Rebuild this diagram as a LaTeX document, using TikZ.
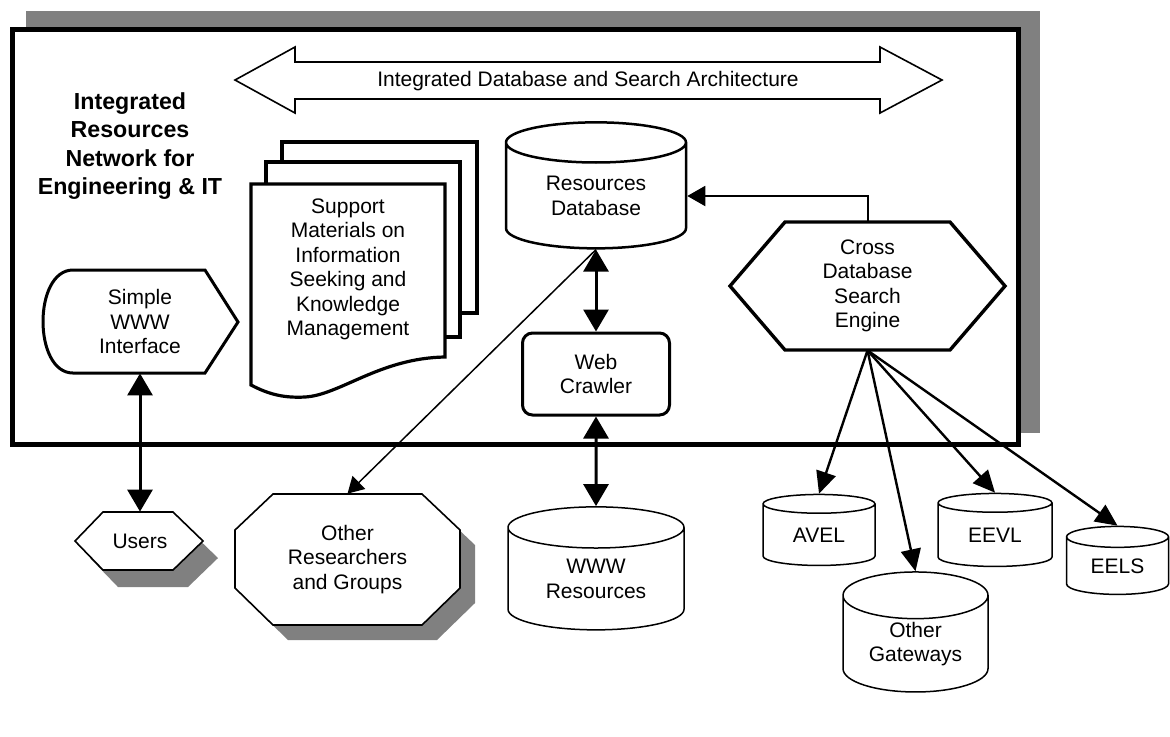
\documentclass[tikz,border=0pt]{standalone}
\usepackage{fontspec}
\setmainfont{Liberation Sans}
\usetikzlibrary{arrows.meta,shapes.geometric}
\begin{document}
\begin{tikzpicture}[x=0.5pt,y=-0.5pt,
    every node/.style={font=\fontsize{10.5}{12.25}\selectfont, align=center, inner sep=0pt},
    db/.style={cylinder, shape border rotate=90, draw, fill=white, line width=0.75pt},
    bigarrow/.style={line width=1.5pt, {Triangle[length=11pt,width=12.5pt]}-{Triangle[length=11pt,width=12.5pt]}},
    gwarrow/.style={line width=1.2pt, -{Triangle[length=11pt,width=10pt]}},
    shade/.style={fill=black!50}]
	% bounding box
	\useasboundingbox (0,0) rectangle (1170,736);
	% network box with its shadow
	\fill[shade] (26,11) rectangle (1040,433);
	\draw[line width=2.5pt, fill=white] (12.5,29.5) rectangle (1018,444);
	% architecture banner
	\draw[line width=0.8pt, fill=white] (235,80) -- (295,47) -- (295,62) -- (880,62) -- (880,47) -- (942,80)
		-- (880,113) -- (880,99) -- (295,99) -- (295,113) -- cycle;
	\node (arch) at (588,81) {Integrated Database and Search Architecture};
	% title
	\node[font=\fontsize{11.6}{14.3}\selectfont\bfseries] (title) at (130,146) {Integrated\\Resources\\Network for\\Engineering \& IT};
	% support materials stack
	\draw[line width=1.6pt, fill=white] (282,142) rectangle (477,313);
	\draw[line width=1.6pt, fill=white] (266,162) rectangle (460,337);
	\draw[line width=1.6pt, fill=white] (251,184) -- (445,184) -- (445,357)
		.. controls (380,358) and (340,395) .. (305,397) .. controls (285,398) and (270,395) .. (251,385) -- cycle;
	\node (supp) at (348,269.5) {Support\\Materials on\\Information\\Seeking and\\Knowledge\\Management};
	% interface
	\draw[line width=1.5pt, fill=white] (73,270) -- (205,270) -- (238,322) -- (205,373) -- (73,373)
		.. controls (33,373) and (33,270) .. (73,270) -- cycle;
	\node[minimum width=97.5pt, minimum height=51.5pt] (iface) at (140,321.5) {Simple\\WWW\\Interface};
	% databases and crawler
	\node[db, line width=1.25pt, minimum width=90pt, minimum height=63pt, aspect=0.4] (resdb) at (596,196) {Resources\\Database};
	\node[draw, rounded corners=5pt, line width=1.5pt, minimum width=73.5pt, minimum height=41pt] (crawl) at (596,374) {Web\\Crawler};
	% search engine
	\draw[line width=1.7pt, fill=white] (730,286) -- (785,222) -- (950,222) -- (1005,286) -- (950,350) -- (785,350) -- cycle;
	\node[minimum width=137.5pt, minimum height=64pt] (cross) at (867.5,286) {Cross\\Database\\Search\\Engine};
	% users
	\fill[shade] (90,558) -- (118,529) -- (188,529) -- (218,558) -- (188,587) -- (118,587) -- cycle;
	\draw[line width=0.8pt, fill=white] (75,541) -- (103,512) -- (173,512) -- (203,541) -- (173,570) -- (103,570) -- cycle;
	\node[minimum width=64pt, minimum height=29pt] (users) at (140,541) {Users};
	% other researchers
	\fill[shade] (250,545) -- (288,509) -- (437,509) -- (475,545) -- (475,603) -- (437,640) -- (288,640) -- (250,603) -- cycle;
	\draw[line width=0.8pt, fill=white] (235,530) -- (273,494) -- (422,494) -- (460,530) -- (460,588) -- (422,625) -- (273,625) -- (235,588) -- cycle;
	\node[minimum width=112.5pt, minimum height=65.5pt] (others) at (347.5,559.5) {Other\\Researchers\\and Groups};
	% outside resources
	\node[db, minimum width=88pt, minimum height=61.5pt, aspect=0.41] (wwwres) at (596,579) {WWW\\Resources};
	\node[db, minimum width=56pt, minimum height=35.5pt, aspect=0.36] (avel) at (819,535) {AVEL};
	\node[db, minimum width=57pt, minimum height=36.5pt, aspect=0.35] (eevl) at (995,535) {EEVL};
	\node[db, minimum width=51pt, minimum height=34pt, aspect=0.39] (eels) at (1117.5,566) {EELS};
	\node[db, minimum width=72.5pt, minimum height=60pt, aspect=0.5] (othergw) at (915.5,644) {Other\\Gateways};
	% connectors
	\draw[bigarrow] (iface) -- (users);
	\draw[bigarrow] (resdb) -- (crawl);
	\draw[bigarrow] (crawl) -- (wwwres);
	\draw[line width=1pt, -{Triangle[length=9pt,width=10pt]}] (cross.north) |- (resdb.east);
	\draw[line width=0.75pt, -{Triangle[length=8pt,width=9pt]}] (resdb.south) -- (others.north);
	\foreach \gw in {avel,othergw,eevl,eels}
		\draw[gwarrow] (cross.south) -- (\gw.north);
\end{tikzpicture}
\end{document}
